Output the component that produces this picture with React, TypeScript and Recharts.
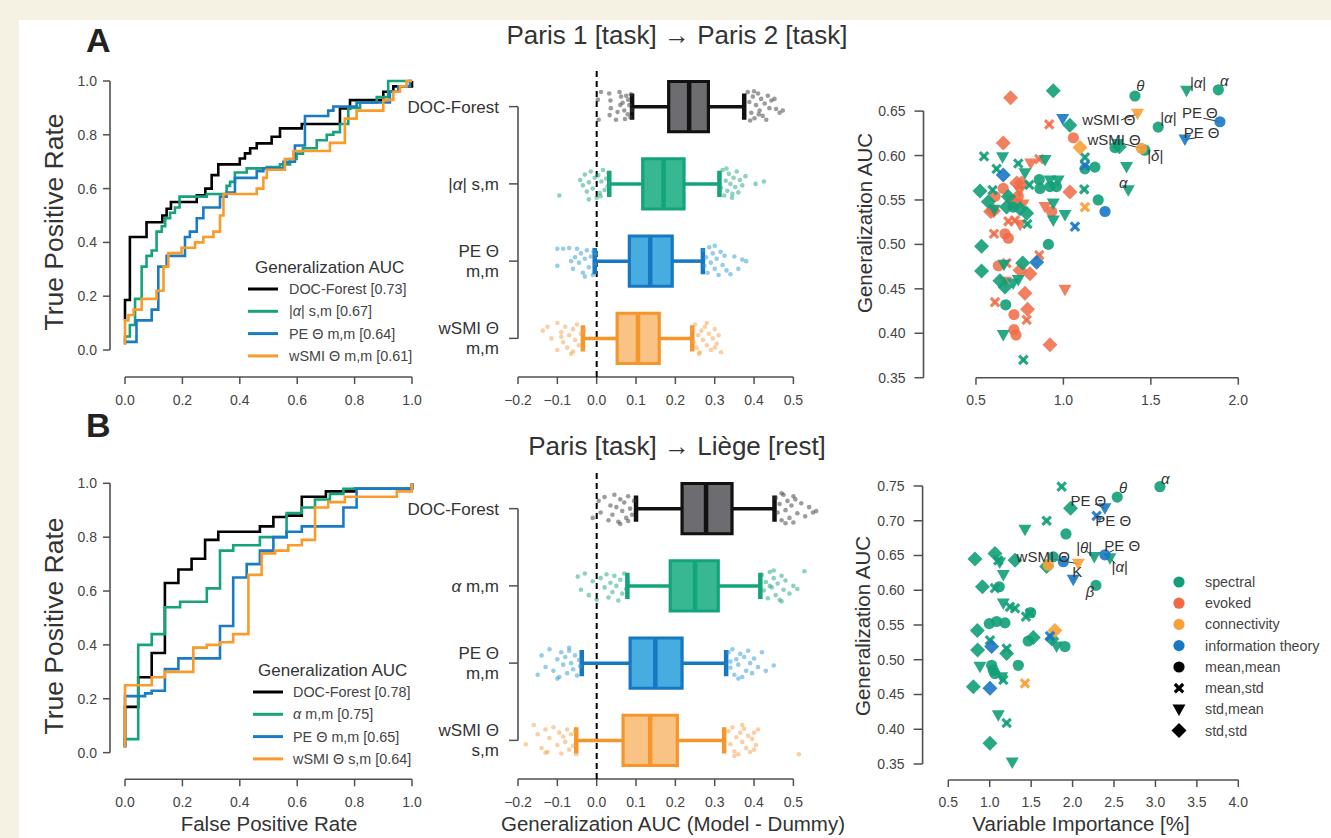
import React from "react";
import {
  LineChart,
  Line,
  ScatterChart,
  Scatter,
  XAxis,
  YAxis,
  ReferenceLine,
  ReferenceArea,
} from "recharts";

// Two-row figure: ROC curves, notched box plots with strip points, and
// variable-importance scatter, for two generalization settings (A, B).

const FONT = '"Liberation Sans", Arial, Helvetica, sans-serif';
const INK = "#333333";
const AXIS = "#505050";
const TICK = { fill: "#444444", fontSize: 14, fontFamily: FONT };

// ---------- ROC (fpr, tpr) corners, drawn as stepAfter ----------
const rocTicks = [0, 0.2, 0.4, 0.6, 0.8, 1.0];
const rocColors = ["#000000", "#16a37b", "#1a7bc5", "#f99b2b"];

const rocADoc = [[0,0.11],[0,0.186],[0.017,0.42],[0.075,0.475],[0.13,0.5],[0.145,0.525],[0.16,0.55],[0.25,0.575],[0.28,0.6],[0.302,0.65],[0.325,0.69],[0.4,0.712],[0.418,0.731],[0.436,0.75],[0.459,0.768],[0.511,0.793],[0.54,0.824],[0.616,0.84],[0.749,0.898],[0.784,0.929],[0.9,0.96],[0.935,0.98],[1,1]];
const rocAAlpha = [[0,0.03],[0,0.05],[0.017,0.093],[0.035,0.19],[0.058,0.31],[0.075,0.35],[0.093,0.37],[0.11,0.44],[0.128,0.46],[0.14,0.49],[0.157,0.51],[0.174,0.53],[0.19,0.57],[0.285,0.58],[0.354,0.61],[0.366,0.625],[0.383,0.66],[0.424,0.675],[0.494,0.68],[0.54,0.69],[0.575,0.71],[0.598,0.73],[0.62,0.75],[0.668,0.78],[0.703,0.8],[0.726,0.81],[0.749,0.84],[0.778,0.9],[0.819,0.92],[0.877,0.94],[0.917,1.0],[1,1]];
const rocAPe = [[0,0.02],[0,0.03],[0.04,0.11],[0.093,0.15],[0.116,0.31],[0.145,0.35],[0.209,0.42],[0.226,0.44],[0.25,0.49],[0.273,0.53],[0.331,0.57],[0.354,0.585],[0.383,0.64],[0.459,0.665],[0.482,0.675],[0.552,0.7],[0.592,0.76],[0.627,0.87],[0.708,0.89],[0.726,0.905],[0.807,0.92],[0.923,0.96],[0.952,0.98],[0.993,1.0],[1,1]];
const rocAWsmi = [[0,0.02],[0,0.11],[0.012,0.13],[0.03,0.15],[0.058,0.19],[0.11,0.22],[0.134,0.31],[0.151,0.36],[0.197,0.38],[0.244,0.4],[0.273,0.42],[0.308,0.44],[0.331,0.5],[0.343,0.58],[0.459,0.6],[0.482,0.64],[0.494,0.67],[0.557,0.71],[0.587,0.74],[0.714,0.77],[0.766,0.86],[0.807,0.89],[0.9,0.93],[0.935,0.96],[0.958,0.98],[0.981,1.0],[1,1]];

const rocBDoc = [[0,0.02],[0,0.17],[0.046,0.28],[0.093,0.37],[0.139,0.63],[0.186,0.68],[0.232,0.72],[0.279,0.79],[0.325,0.82],[0.47,0.84],[0.517,0.875],[0.563,0.88],[0.616,0.95],[0.7,0.97],[0.8,0.98],[1,1]];
const rocBAlpha = [[0,0.02],[0,0.05],[0.046,0.4],[0.093,0.44],[0.139,0.54],[0.192,0.56],[0.285,0.61],[0.331,0.75],[0.377,0.77],[0.47,0.8],[0.563,0.89],[0.616,0.91],[0.662,0.94],[0.714,0.96],[0.761,0.98],[1,1]];
const rocBPe = [[0,0.02],[0,0.21],[0.07,0.22],[0.093,0.23],[0.139,0.31],[0.186,0.35],[0.331,0.47],[0.377,0.65],[0.424,0.7],[0.47,0.75],[0.517,0.8],[0.563,0.82],[0.616,0.84],[0.761,0.91],[0.807,0.98],[1,1]];
const rocBWsmi = [[0,0.02],[0,0.25],[0.093,0.28],[0.139,0.3],[0.238,0.39],[0.285,0.4],[0.331,0.41],[0.377,0.44],[0.43,0.66],[0.476,0.74],[0.523,0.75],[0.569,0.77],[0.616,0.79],[0.662,0.91],[0.708,0.93],[0.766,0.95],[0.947,0.97],[0.999,1.0]];

const rocALegend = ["DOC-Forest [0.73]", "|α| s,m [0.67]", "PE Θ m,m [0.64]", "wSMI Θ m,m [0.61]"];
const rocBLegend = ["DOC-Forest [0.78]", "α m,m [0.75]", "PE Θ m,m [0.65]", "wSMI Θ s,m [0.64]"];

// ---------- box plots: [whisker lo, q1, median, q3, whisker hi] ----------
const boxTicks = [-0.2, -0.1, 0, 0.1, 0.2, 0.3, 0.4, 0.5];
const boxEdge = ["#111111", "#12a47b", "#1677c2", "#f6952a"];
const boxFill = ["#6d6d71", "#37b792", "#47ace0", "#f9c386"];
const dotColor = ["#3a3a3a", "#1aa57e", "#2a9ad6", "#f5a04a"];

const aBoxStats = [
  [0.09, 0.183, 0.235, 0.284, 0.375],
  [0.032, 0.117, 0.17, 0.222, 0.312],
  [-0.005, 0.083, 0.136, 0.192, 0.27],
  [-0.035, 0.052, 0.105, 0.159, 0.243],
];
const bBoxStats = [
  [0.1, 0.217, 0.278, 0.344, 0.452],
  [0.078, 0.187, 0.25, 0.309, 0.416],
  [-0.038, 0.085, 0.149, 0.217, 0.329],
  [-0.052, 0.067, 0.136, 0.205, 0.324],
];
// category labels, index = y position (0 bottom .. 3 top)
const aCatLabels = ["wSMI Θ\nm,m", "PE Θ\nm,m", "|α| s,m", "DOC-Forest"];
const bCatLabels = ["wSMI Θ\ns,m", "PE Θ\nm,m", "α m,m", "DOC-Forest"];

// strip points [value, vertical jitter]
const aDocPts = [[0.003,0.09],[0.005,-0.17],[0.011,0.19],[0.032,0.17],[0.035,0.08],[0.036,-0.02],[0.033,-0.11],[0.049,-0.17],[0.058,0.19],[0.062,0.13],[0.066,0.05],[0.07,-0.05],[0.075,0.14],[0.079,-0.1],[0.083,0.02],[0.086,-0.14],[0.087,0.16],[0.072,-0.16],[0.06,0.02],[0.053,-0.07],[0.08,0.09],[0.09,-0.04],[0.384,0.19],[0.388,0.06],[0.393,-0.08],[0.397,0.13],[0.401,-0.15],[0.405,0.02],[0.41,0.17],[0.414,-0.05],[0.418,0.1],[0.422,-0.12],[0.427,0.04],[0.431,-0.17],[0.435,0.14],[0.439,-0.02],[0.444,0.08],[0.452,0.1],[0.456,-0.03],[0.465,-0.08],[0.473,-0.05],[0.39,-0.18],[0.4,0.2],[0.412,-0.1]];
const aAlphaPts = [[-0.095,-0.15],[-0.042,0.05],[-0.035,-0.02],[-0.03,0.12],[-0.025,-0.1],[-0.02,0.02],[-0.015,0.16],[-0.01,-0.06],[-0.005,0.08],[0.0,-0.18],[0.004,0.11],[0.008,-0.12],[0.012,0.03],[0.016,0.18],[0.02,-0.08],[0.024,0.07],[0.028,-0.03],[0.03,0.14],[-0.02,-0.2],[0.01,-0.16],[0.312,0.1],[0.316,-0.05],[0.32,0.18],[0.324,-0.15],[0.328,0.04],[0.332,-0.09],[0.336,0.13],[0.34,0.0],[0.344,-0.18],[0.348,0.08],[0.352,-0.04],[0.356,0.16],[0.36,-0.11],[0.364,0.05],[0.37,-0.02],[0.378,0.1],[0.404,0.0],[0.425,0.03],[0.33,0.2],[0.345,-0.13]];
const aPePts = [[-0.1,0.16],[-0.1,-0.06],[-0.085,0.16],[-0.07,0.17],[-0.06,-0.1],[-0.055,0.05],[-0.05,0.16],[-0.045,-0.02],[-0.04,0.1],[-0.035,-0.15],[-0.03,0.03],[-0.025,0.14],[-0.02,-0.08],[-0.015,0.06],[-0.01,-0.18],[-0.008,0.12],[-0.005,-0.04],[-0.002,0.09],[-0.03,-0.2],[-0.065,0.0],[0.27,0.14],[0.274,-0.06],[0.278,0.05],[0.282,-0.15],[0.286,0.18],[0.29,-0.02],[0.295,0.1],[0.3,-0.1],[0.305,0.03],[0.31,-0.18],[0.315,0.12],[0.32,-0.05],[0.325,0.07],[0.33,-0.12],[0.34,-0.17],[0.35,0.06],[0.36,-0.1],[0.37,0.02],[0.38,0.0],[0.3,0.2]];
const aWsmiPts = [[-0.137,0.1],[-0.125,0.15],[-0.115,0.0],[-0.1,0.2],[-0.1,-0.15],[-0.09,0.08],[-0.085,-0.05],[-0.08,0.15],[-0.075,-0.12],[-0.07,0.04],[-0.065,-0.2],[-0.06,0.12],[-0.055,-0.02],[-0.05,0.18],[-0.045,-0.09],[-0.04,0.06],[-0.035,-0.14],[-0.032,0.1],[-0.06,-0.17],[-0.09,0.02],[0.242,0.12],[0.246,-0.05],[0.25,0.18],[0.254,-0.12],[0.258,0.04],[0.262,-0.18],[0.266,0.1],[0.27,-0.02],[0.275,0.15],[0.28,-0.09],[0.285,0.06],[0.29,-0.15],[0.295,0.0],[0.3,0.12],[0.305,-0.07],[0.31,0.04],[0.316,-0.18],[0.28,0.2],[0.26,-0.2],[0.3,-0.12]];
const bDocPts = [[-0.01,-0.12],[0.005,0.1],[0.01,-0.05],[0.02,0.15],[0.03,-0.15],[0.035,0.04],[0.04,-0.08],[0.045,0.18],[0.05,0.02],[0.055,-0.17],[0.06,0.12],[0.065,-0.03],[0.07,0.08],[0.075,-0.12],[0.08,0.16],[0.085,0.0],[0.09,-0.08],[0.095,0.1],[0.06,-0.2],[0.08,-0.16],[0.455,0.14],[0.46,-0.05],[0.465,0.06],[0.47,-0.15],[0.475,0.18],[0.48,-0.02],[0.485,0.1],[0.49,-0.12],[0.495,0.04],[0.5,-0.18],[0.505,0.12],[0.51,-0.06],[0.52,0.07],[0.53,-0.1],[0.54,0.02],[0.55,-0.05],[0.558,-0.03],[0.47,0.2],[0.5,0.16],[0.48,-0.19]];
const bAlphaPts = [[-0.048,0.12],[-0.04,-0.05],[-0.03,0.16],[-0.02,-0.12],[-0.01,0.06],[0.0,-0.18],[0.01,0.1],[0.02,-0.02],[0.025,0.15],[0.03,-0.15],[0.035,0.04],[0.04,-0.08],[0.045,0.13],[0.05,0.0],[0.055,-0.19],[0.06,0.08],[0.065,-0.1],[0.07,0.16],[0.075,-0.04],[0.08,0.05],[0.42,0.14],[0.425,-0.06],[0.43,0.05],[0.435,-0.16],[0.44,0.18],[0.445,-0.02],[0.45,0.1],[0.455,-0.12],[0.46,0.03],[0.465,-0.18],[0.47,0.13],[0.475,-0.05],[0.48,0.07],[0.49,-0.1],[0.5,0.0],[0.51,-0.04],[0.528,0.19],[0.45,0.2],[0.47,-0.2],[0.44,0.0]];
const bPePts = [[-0.15,-0.15],[-0.14,0.1],[-0.13,-0.05],[-0.12,0.18],[-0.11,-0.1],[-0.1,0.05],[-0.095,-0.18],[-0.09,0.14],[-0.085,-0.02],[-0.08,0.08],[-0.075,-0.13],[-0.07,0.16],[-0.065,0.0],[-0.06,-0.08],[-0.055,0.1],[-0.05,-0.16],[-0.045,0.04],[-0.042,-0.04],[-0.1,-0.2],[-0.07,0.2],[0.335,0.14],[0.34,-0.06],[0.345,0.18],[0.35,-0.15],[0.355,0.05],[0.36,-0.02],[0.365,0.12],[0.37,-0.18],[0.375,0.08],[0.38,-0.1],[0.385,0.16],[0.39,0.0],[0.395,-0.13],[0.4,0.06],[0.41,-0.05],[0.42,0.14],[0.43,-0.1],[0.45,-0.03],[0.36,-0.2],[0.34,0.02]];
const bWsmiPts = [[-0.18,-0.05],[-0.16,0.2],[-0.15,0.08],[-0.14,-0.1],[-0.13,0.14],[-0.125,-0.15],[-0.12,0.03],[-0.11,0.17],[-0.1,-0.06],[-0.095,0.1],[-0.09,-0.17],[-0.085,0.05],[-0.08,-0.02],[-0.075,0.14],[-0.07,-0.12],[-0.065,0.08],[-0.06,-0.07],[-0.055,0.12],[-0.052,-0.18],[-0.13,-0.16],[0.335,0.12],[0.34,-0.05],[0.345,0.17],[0.35,-0.14],[0.355,0.04],[0.36,-0.18],[0.365,0.1],[0.37,-0.02],[0.375,0.15],[0.38,-0.1],[0.385,0.06],[0.39,-0.15],[0.395,0.02],[0.4,0.1],[0.405,-0.06],[0.41,0.14],[0.514,-0.18],[0.37,0.2],[0.35,-0.2],[0.4,-0.12]];

// ---------- variable importance scatter: [importance, AUC, marker] ----------
const SPECTRAL = "#119e78";
const EVOKED = "#ef6a45";
const CONNECT = "#f8a035";
const INFO = "#1877c4";
const catNames = ["spectral", "evoked", "connectivity", "information theory"];
const catColors = [SPECTRAL, EVOKED, CONNECT, INFO];
const markNames = ["mean,mean", "mean,std", "std,mean", "std,std"];
const markCodes = ["o", "x", "v", "d"];

const aXTicks = [0.5, 1.0, 1.5, 2.0];
const aYTicks = [0.35, 0.4, 0.45, 0.5, 0.55, 0.6, 0.65];
const bXTicks = [0.5, 1.0, 1.5, 2.0, 2.5, 3.0, 3.5, 4.0];
const bYTicks = [0.35, 0.4, 0.45, 0.5, 0.55, 0.6, 0.65, 0.7, 0.75];

const aSpectral = [[0.942,0.673,"d"],[1.409,0.667,"o"],[1.704,0.673,"v"],[1.886,0.674,"o"],[1.542,0.632,"o"],[1.466,0.606,"o"],[1.295,0.609,"o"],[1.31,0.613,"v"],[1.361,0.587,"v"],[1.371,0.561,"v"],[1.037,0.634,"d"],[1.123,0.585,"o"],[1.18,0.587,"o"],[1.123,0.598,"x"],[1.119,0.562,"x"],[1.199,0.55,"o"],[0.914,0.5,"o"],[0.862,0.573,"o"],[0.866,0.563,"o"],[0.923,0.565,"o"],[0.96,0.565,"o"],[0.895,0.595,"v"],[0.923,0.572,"v"],[0.97,0.572,"v"],[0.942,0.546,"v"],[0.942,0.527,"v"],[1.009,0.533,"v"],[0.546,0.599,"x"],[0.652,0.598,"v"],[0.742,0.591,"x"],[0.78,0.58,"v"],[0.618,0.585,"x"],[0.805,0.567,"x"],[0.595,0.561,"x"],[0.523,0.56,"d"],[0.571,0.548,"d"],[0.605,0.539,"v"],[0.685,0.554,"d"],[0.675,0.542,"d"],[0.713,0.542,"o"],[0.752,0.54,"d"],[0.79,0.535,"d"],[0.794,0.523,"x"],[0.532,0.498,"d"],[0.532,0.47,"d"],[0.66,0.477,"v"],[0.767,0.479,"d"],[0.637,0.459,"d"],[0.666,0.452,"d"],[0.713,0.456,"v"],[0.742,0.46,"v"],[0.67,0.432,"o"],[0.656,0.398,"v"],[0.771,0.37,"x"],[1.32,0.61,"d"]];
const aEvoked = [[0.698,0.665,"d"],[0.919,0.635,"x"],[1.057,0.62,"o"],[0.656,0.614,"d"],[0.862,0.596,"x"],[0.813,0.591,"v"],[0.656,0.563,"o"],[0.609,0.554,"o"],[0.584,0.537,"d"],[0.733,0.569,"d"],[0.761,0.569,"d"],[0.742,0.554,"o"],[0.732,0.546,"o"],[0.77,0.545,"v"],[0.75,0.56,"v"],[1.037,0.559,"d"],[0.895,0.542,"v"],[0.933,0.537,"o"],[0.685,0.526,"x"],[0.723,0.527,"x"],[0.752,0.522,"v"],[0.603,0.512,"x"],[0.666,0.512,"o"],[0.685,0.507,"o"],[0.675,0.479,"x"],[0.628,0.476,"o"],[0.862,0.488,"x"],[0.752,0.471,"d"],[0.809,0.467,"d"],[0.67,0.458,"v"],[0.78,0.445,"d"],[1.009,0.449,"v"],[0.609,0.435,"x"],[0.795,0.427,"d"],[0.79,0.415,"x"],[0.717,0.421,"o"],[0.717,0.404,"o"],[0.729,0.398,"o"],[0.923,0.387,"d"],[0.6,0.538,"d"],[0.7,0.55,"v"]];
const aConn = [[1.424,0.647,"v"],[1.095,0.609,"d"],[1.447,0.608,"o"],[1.123,0.542,"x"]];
const aInfo = [[0.996,0.641,"v"],[1.895,0.638,"o"],[1.695,0.618,"v"],[0.656,0.578,"d"],[1.123,0.589,"x"],[1.238,0.537,"o"],[1.066,0.52,"x"],[0.847,0.48,"d"]];

const bSpectral = [[3.054,0.749,"o"],[2.539,0.734,"o"],[1.868,0.749,"x"],[1.976,0.718,"d"],[1.687,0.7,"x"],[1.425,0.687,"v"],[1.92,0.681,"o"],[1.063,0.653,"d"],[1.103,0.643,"x"],[0.822,0.645,"d"],[1.305,0.643,"d"],[1.687,0.634,"d"],[1.767,0.648,"o"],[2.262,0.648,"v"],[2.451,0.646,"v"],[1.164,0.622,"v"],[0.912,0.605,"d"],[1.115,0.605,"o"],[1.063,0.603,"x"],[2.282,0.607,"o"],[1.164,0.581,"v"],[1.244,0.576,"x"],[1.305,0.574,"x"],[1.437,0.562,"x"],[1.486,0.567,"x"],[1.494,0.568,"o"],[0.995,0.552,"o"],[1.083,0.555,"o"],[1.184,0.553,"o"],[0.85,0.542,"d"],[1.003,0.528,"x"],[1.465,0.527,"o"],[1.526,0.532,"d"],[1.807,0.519,"v"],[1.908,0.519,"o"],[0.854,0.514,"d"],[1.204,0.516,"x"],[1.204,0.509,"d"],[0.882,0.49,"v"],[1.345,0.492,"o"],[1.023,0.492,"o"],[1.043,0.485,"o"],[1.063,0.48,"o"],[1.144,0.475,"v"],[1.164,0.471,"x"],[0.802,0.461,"d"],[1.103,0.42,"v"],[1.204,0.409,"x"],[1.003,0.38,"d"],[1.272,0.352,"v"],[1.12,0.64,"v"],[1.75,0.53,"d"]];
const bConn = [[2.069,0.638,"v"],[1.707,0.636,"o"],[1.787,0.542,"d"],[1.425,0.466,"x"]];
const bInfo = [[2.39,0.718,"v"],[2.29,0.707,"x"],[2.39,0.651,"o"],[1.888,0.641,"o"],[2.008,0.615,"v"],[1.727,0.534,"x"],[1.023,0.519,"d"],[1.003,0.459,"d"]];

// annotations [x, y, text] and leader lines [x1, y1, x2, y2]
const aNotes = [[1.44,0.679,"θ"],[1.77,0.682,"|α|"],[1.92,0.684,"α"],[1.26,0.64,"wSMI Θ"],[1.6,0.643,"|α|"],[1.78,0.648,"PE Θ"],[1.29,0.618,"wSMI Θ"],[1.79,0.626,"PE Θ"],[1.525,0.6,"|δ|"],[1.342,0.569,"α"]];
const aLeaders = [[1.33,0.64,1.424,0.647],[1.8,0.642,1.895,0.638],[1.31,0.615,1.447,0.608],[1.76,0.62,1.695,0.618]];
const bNotes = [[3.12,0.761,"α"],[2.61,0.747,"θ"],[2.19,0.729,"PE Θ"],[2.49,0.7,"PE Θ"],[2.14,0.662,"|θ|"],[2.6,0.664,"PE Θ"],[2.57,0.634,"|α|"],[1.646,0.648,"wSMI Θ"],[2.056,0.627,"K"],[2.21,0.598,"β"]];
const bLeaders = [[2.27,0.724,2.39,0.718],[2.38,0.702,2.29,0.707],[2.17,0.656,2.262,0.648],[2.5,0.658,2.39,0.651],[1.76,0.645,2.069,0.638],[2.05,0.622,2.008,0.615],[2.52,0.638,2.451,0.646]];

// ---------- helpers ----------
const GREEK = /([αθδβ])/;
function greek(s: string) {
  return s.split(GREEK).map((p, i) =>
    GREEK.test(p) ? (
      <tspan key={i} fontStyle="italic">{p}</tspan>
    ) : (
      <tspan key={i}>{p}</tspan>
    )
  );
}
const f1 = (v: number) => v.toFixed(1);
const f2 = (v: number) => v.toFixed(2);
const fSigned = (v: number) => (v < 0 ? "\u2212" + Math.abs(v).toFixed(1) : v.toFixed(1));
const xy = (arr: number[][]) => arr.map(([x, y]) => ({ x, y }));
const xym = (arr: any[][]) => arr.map(([x, y, m]) => ({ x, y, m }));

function Marker({ cx, cy, m, color, op = 0.9 }: any) {
  if (m === "x")
    return (
      <g stroke={color} strokeWidth={3.2} strokeOpacity={op}>
        <line x1={cx - 4.2} y1={cy - 4.2} x2={cx + 4.2} y2={cy + 4.2} />
        <line x1={cx - 4.2} y1={cy + 4.2} x2={cx + 4.2} y2={cy - 4.2} />
      </g>
    );
  if (m === "v")
    return (
      <polygon
        points={`${cx - 6.5},${cy - 5} ${cx + 6.5},${cy - 5} ${cx},${cy + 6.5}`}
        fill={color}
        fillOpacity={op}
      />
    );
  if (m === "d")
    return (
      <polygon
        points={`${cx},${cy - 7.5} ${cx + 7.5},${cy} ${cx},${cy + 7.5} ${cx - 7.5},${cy}`}
        fill={color}
        fillOpacity={op}
      />
    );
  return <circle cx={cx} cy={cy} r={5.6} fill={color} fillOpacity={op} />;
}

const tickLine = { stroke: AXIS, strokeWidth: 1.5 };

// ---------- panels ----------
const ROC_XMIN = -0.0523;

function RocPanel({ top, margin, yMin, series }: any) {
  return (
    <div style={{ position: "absolute", left: 0, top, width: 430, height: 420 }}>
      <LineChart width={430} height={420} margin={margin}>
        <XAxis
          type="number"
          dataKey="x"
          domain={[ROC_XMIN, 1]}
          ticks={rocTicks}
          tickFormatter={f1}
          interval={0}
          axisLine={false}
          tickLine={tickLine}
          tickSize={7}
          tickMargin={11}
          height={30}
          tick={TICK}
        />
        <YAxis
          type="number"
          domain={[yMin, 1]}
          ticks={rocTicks}
          tickFormatter={f1}
          interval={0}
          axisLine={false}
          tickLine={tickLine}
          tickSize={7}
          tickMargin={6}
          width={60}
          tick={TICK}
        />
        <ReferenceLine segment={[{ x: ROC_XMIN, y: 0 }, { x: ROC_XMIN, y: 1 }]} stroke={AXIS} strokeWidth={1.6} ifOverflow="visible" />
        <ReferenceLine segment={[{ x: 0, y: yMin }, { x: 1, y: yMin }]} stroke={AXIS} strokeWidth={1.6} ifOverflow="visible" />
        {series.map((s: number[][], i: number) => (
          <Line
            key={i}
            data={xy(s)}
            dataKey="y"
            type="stepAfter"
            stroke={rocColors[i]}
            strokeWidth={2.6}
            dot={false}
            isAnimationActive={false}
          />
        ))}
      </LineChart>
    </div>
  );
}

function CatTick({ x, y, payload, labels }: any) {
  const lines = (labels[payload.value] || "").split("\n");
  const offs = lines.length === 2 ? [-10, 10] : [0];
  return (
    <g>
      {lines.map((l: string, i: number) => (
        <text key={i} x={x} y={y + offs[i]} dy="0.36em" textAnchor="end" fontSize={17} fill={INK} fontFamily={FONT}>
          {greek(l)}
        </text>
      ))}
    </g>
  );
}

function BoxPanel({ top, margin, stats, strips, labels }: any) {
  return (
    <div style={{ position: "absolute", left: 380, top, width: 460, height: 420 }}>
      <ScatterChart width={460} height={420} margin={margin}>
        <XAxis
          type="number"
          dataKey="x"
          domain={[-0.2, 0.56]}
          ticks={boxTicks}
          tickFormatter={fSigned}
          interval={0}
          axisLine={false}
          tickLine={tickLine}
          tickSize={7}
          tickMargin={11}
          height={30}
          tick={TICK}
        />
        <YAxis
          type="number"
          dataKey="y"
          domain={[-0.5, 3.5]}
          ticks={[0, 1, 2, 3]}
          interval={0}
          axisLine={false}
          tickLine={tickLine}
          tickSize={9}
          tickMargin={10}
          width={120}
          tick={(p: any) => <CatTick {...p} labels={labels} />}
        />
        <ReferenceLine segment={[{ x: -0.2, y: 0 }, { x: -0.2, y: 3 }]} stroke={AXIS} strokeWidth={1.6} ifOverflow="visible" />
        <ReferenceLine segment={[{ x: -0.2, y: -0.5 }, { x: 0.5, y: -0.5 }]} stroke={AXIS} strokeWidth={1.6} ifOverflow="visible" />
        <ReferenceLine x={0} stroke="#000" strokeWidth={2} strokeDasharray="6 4" ifOverflow="visible" />
        {strips.map((s: number[][], i: number) => (
          <Scatter
            key={"s" + i}
            data={s.map(([x, dy]) => ({ x, y: 3 - i + dy }))}
            isAnimationActive={false}
            shape={(p: any) => <circle cx={p.cx} cy={p.cy} r={2.3} fill={dotColor[i]} fillOpacity={0.5} />}
          />
        ))}
        {stats.map(([lo, q1, med, q3, hi]: number[], i: number) => {
          const c = 3 - i;
          const col = boxEdge[i];
          return [
            <ReferenceLine key={"wl" + i} segment={[{ x: lo, y: c }, { x: q1, y: c }]} stroke={col} strokeWidth={3.5} ifOverflow="visible" />,
            <ReferenceLine key={"wh" + i} segment={[{ x: q3, y: c }, { x: hi, y: c }]} stroke={col} strokeWidth={3.5} ifOverflow="visible" />,
            <ReferenceLine key={"cl" + i} segment={[{ x: lo, y: c - 0.17 }, { x: lo, y: c + 0.17 }]} stroke={col} strokeWidth={4.5} ifOverflow="visible" />,
            <ReferenceLine key={"ch" + i} segment={[{ x: hi, y: c - 0.17 }, { x: hi, y: c + 0.17 }]} stroke={col} strokeWidth={4.5} ifOverflow="visible" />,
            <ReferenceArea key={"b" + i} x1={q1} x2={q3} y1={c - 0.325} y2={c + 0.325} fill={boxFill[i]} fillOpacity={1} stroke={col} strokeWidth={3.2} ifOverflow="visible" />,
            <ReferenceLine key={"m" + i} segment={[{ x: med, y: c - 0.31 }, { x: med, y: c + 0.31 }]} stroke={col} strokeWidth={4.5} ifOverflow="visible" />,
          ];
        })}
      </ScatterChart>
    </div>
  );
}

function ScatterPanel({ left, top, width, height, margin, xDomain, yDomain, xTicks, yTicks, groups, notes, leaders }: any) {
  const [x0] = xDomain;
  const [y0] = yDomain;
  return (
    <div style={{ position: "absolute", left, top, width, height }}>
      <ScatterChart width={width} height={height} margin={margin}>
        <XAxis
          type="number"
          dataKey="x"
          domain={xDomain}
          ticks={xTicks}
          tickFormatter={f1}
          interval={0}
          axisLine={false}
          tickLine={tickLine}
          tickSize={7}
          tickMargin={10}
          height={30}
          tick={TICK}
        />
        <YAxis
          type="number"
          dataKey="y"
          domain={yDomain}
          ticks={yTicks}
          tickFormatter={f2}
          interval={0}
          axisLine={false}
          tickLine={tickLine}
          tickSize={9}
          tickMargin={9}
          width={60}
          tick={TICK}
        />
        <ReferenceLine segment={[{ x: x0, y: yTicks[0] }, { x: x0, y: yTicks[yTicks.length - 1] }]} stroke={AXIS} strokeWidth={1.6} ifOverflow="visible" />
        <ReferenceLine segment={[{ x: xTicks[0], y: y0 }, { x: xTicks[xTicks.length - 1], y: y0 }]} stroke={AXIS} strokeWidth={1.6} ifOverflow="visible" />
        {groups.map((g: any, i: number) => (
          <Scatter
            key={i}
            data={xym(g.data)}
            isAnimationActive={false}
            shape={(p: any) => <Marker cx={p.cx} cy={p.cy} m={p.payload.m} color={g.color} op={g.op} />}
          />
        ))}
        {leaders.map(([a, b, c, d]: number[], i: number) => (
          <ReferenceLine key={"l" + i} segment={[{ x: a, y: b }, { x: c, y: d }]} stroke="#333" strokeWidth={1} ifOverflow="visible" />
        ))}
        <Scatter
          data={notes.map(([x, y, t]: any[]) => ({ x, y, t }))}
          isAnimationActive={false}
          shape={(p: any) => (
            <text x={p.cx} y={p.cy} dy="0.36em" textAnchor="middle" fontSize={15} fill="#333" fontFamily={FONT}>
              {greek(p.payload.t)}
            </text>
          )}
        />
      </ScatterChart>
    </div>
  );
}

function RocLegend({ x, y, lineX, textX, items }: any) {
  return (
    <g>
      <text x={x} y={y + 6} fontSize={17} fill={INK}>Generalization AUC</text>
      {items.map((t: string, i: number) => {
        const cy = y + 22 + i * 22.3;
        return (
          <g key={i}>
            <line x1={lineX} x2={lineX + 30} y1={cy} y2={cy} stroke={rocColors[i]} strokeWidth={3} />
            <text x={textX} y={cy + 5} fontSize={14.4} fill="#444">{greek(t)}</text>
          </g>
        );
      })}
    </g>
  );
}

export default function App() {
  return (
    <div style={{ position: "absolute", left: 0, top: 0, width: 1331, height: 838, background: "#f5f1e3", overflow: "hidden", fontFamily: FONT }}>
      <div style={{ position: "absolute", left: 19, top: 20, right: 0, bottom: 0, background: "#ffffff" }} />

      <RocPanel top={0} margin={{ top: 81, right: 18, bottom: 13, left: 50 }} yMin={-0.1004} series={[rocADoc, rocAAlpha, rocAPe, rocAWsmi]} />
      <RocPanel top={420} margin={{ top: 63.3, right: 18, bottom: 30.7, left: 50 }} yMin={-0.099} series={[rocBDoc, rocBAlpha, rocBPe, rocBWsmi]} />

      <BoxPanel top={0} margin={{ top: 68, right: 23, bottom: 13, left: 18 }} stats={aBoxStats} strips={[aDocPts, aAlphaPts, aPePts, aWsmiPts]} labels={aCatLabels} />
      <BoxPanel top={420} margin={{ top: 50, right: 23, bottom: 31, left: 18 }} stats={bBoxStats} strips={[bDocPts, bAlphaPts, bPePts, bWsmiPts]} labels={bCatLabels} />

      <ScatterPanel
        left={840} top={40} width={480} height={380}
        margin={{ top: 40, right: 81.7, bottom: 12.3, left: 23.5 }}
        xDomain={[0.2, 2.0]} yDomain={[0.35, 0.685]}
        xTicks={aXTicks} yTicks={aYTicks}
        groups={[
          { data: aEvoked, color: EVOKED, op: 0.85 },
          { data: aSpectral, color: SPECTRAL, op: 0.9 },
          { data: aConn, color: CONNECT, op: 0.9 },
          { data: aInfo, color: INFO, op: 0.9 },
        ]}
        notes={aNotes} leaders={aLeaders}
      />
      <ScatterPanel
        left={840} top={440} width={491} height={398}
        margin={{ top: 28.6, right: 92.7, bottom: 28, left: 22.6 }}
        xDomain={[0.19, 4.0]} yDomain={[0.327, 0.775]}
        xTicks={bXTicks} yTicks={bYTicks}
        groups={[
          { data: bSpectral, color: SPECTRAL, op: 0.9 },
          { data: bConn, color: CONNECT, op: 0.9 },
          { data: bInfo, color: INFO, op: 0.9 },
        ]}
        notes={bNotes} leaders={bLeaders}
      />

      <svg width={1331} height={838} style={{ position: "absolute", left: 0, top: 0, pointerEvents: "none" }} fontFamily={FONT}>
        <text x={86} y={52} fontSize={34} fontWeight="bold" fill="#222">A</text>
        <text x={86} y={437} fontSize={34} fontWeight="bold" fill="#222">B</text>
        <text x={677} y={44} fontSize={26} fill={INK} textAnchor="middle">Paris 1 [task]  →  Paris 2 [task]</text>
        <text x={677} y={455} fontSize={26} fill={INK} textAnchor="middle">Paris [task]  →  Liège [rest]</text>

        <text transform="translate(63,222) rotate(-90)" fontSize={26.5} fill={INK} textAnchor="middle">True Positive Rate</text>
        <text transform="translate(63,626) rotate(-90)" fontSize={26.5} fill={INK} textAnchor="middle">True Positive Rate</text>
        <text transform="translate(872,223) rotate(-90)" fontSize={20.5} fill={INK} textAnchor="middle">Generalization AUC</text>
        <text transform="translate(870,626) rotate(-90)" fontSize={20.5} fill={INK} textAnchor="middle">Generalization AUC</text>
        <text x={269} y={831} fontSize={20.5} fill={INK} textAnchor="middle">False Positive Rate</text>
        <text x={673} y={831} fontSize={20.5} fill={INK} textAnchor="middle">Generalization AUC (Model - Dummy)</text>
        <text x={1081} y={831} fontSize={20.5} fill={INK} textAnchor="middle">Variable Importance [%]</text>

        <RocLegend x={255} y={267} lineX={248} textX={289} items={rocALegend} />
        <RocLegend x={258} y={670} lineX={253} textX={293} items={rocBLegend} />

        {catNames.map((n, i) => (
          <g key={n}>
            <Marker cx={1179} cy={582 + i * 21.2} m="o" color={catColors[i]} op={1} />
            <text x={1205} y={582 + i * 21.2 + 5} fontSize={14.3} fill="#444">{n}</text>
          </g>
        ))}
        {markNames.map((n, i) => (
          <g key={n}>
            <Marker cx={1179} cy={667 + i * 21.2} m={markCodes[i]} color="#000" op={1} />
            <text x={1205} y={667 + i * 21.2 + 5} fontSize={14.3} fill="#444">{n}</text>
          </g>
        ))}
      </svg>
    </div>
  );
}
